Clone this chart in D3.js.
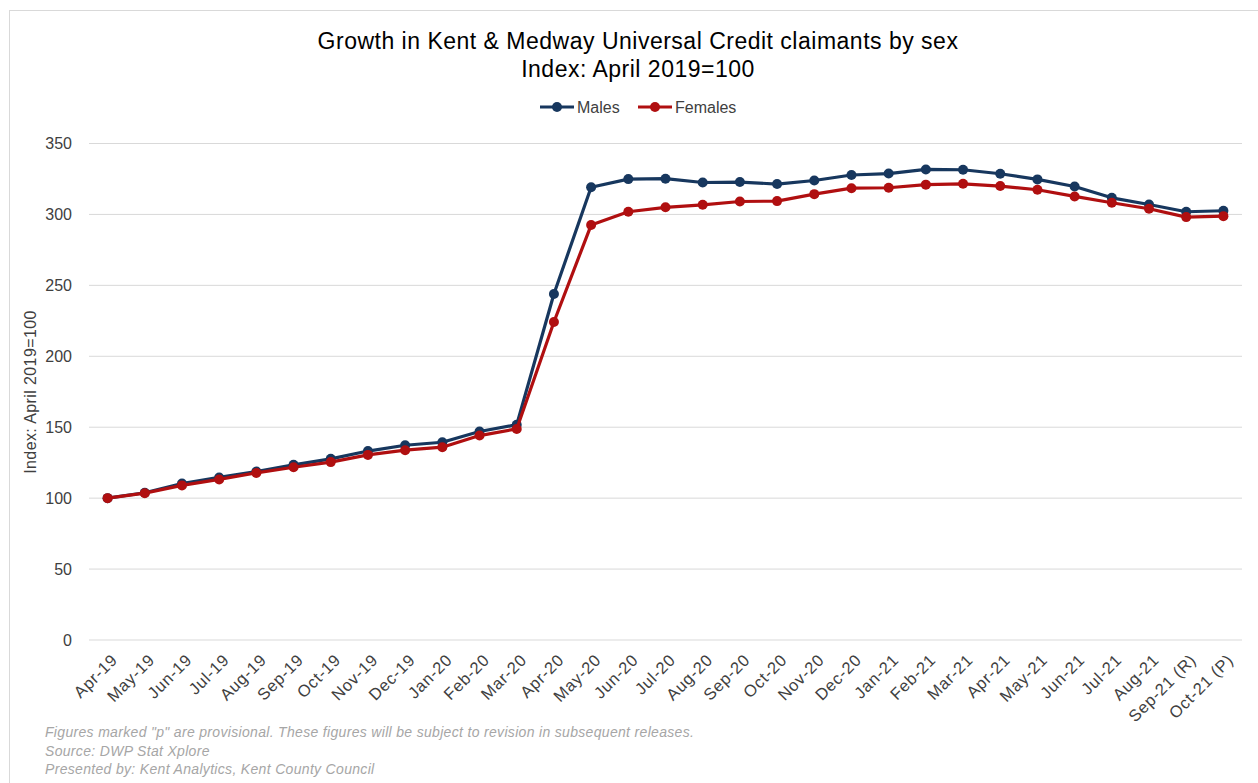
<!DOCTYPE html>
<html><head><meta charset="utf-8">
<script src="https://cdn.jsdelivr.net/npm/d3@7"></script>
<style>body{margin:0;background:#fff}svg{display:block;font-family:"Liberation Sans",Arial,sans-serif}</style>
</head><body><svg id="c" width="1258" height="783"></svg>
<script>
const months = ["Apr-19","May-19","Jun-19","Jul-19","Aug-19","Sep-19","Oct-19","Nov-19","Dec-19","Jan-20","Feb-20","Mar-20","Apr-20","May-20","Jun-20","Jul-20","Aug-20","Sep-20","Oct-20","Nov-20","Dec-20","Jan-21","Feb-21","Mar-21","Apr-21","May-21","Jun-21","Jul-21","Aug-21","Sep-21 (R)","Oct-21 (P)"];
const males = [100,103.8,110.3,114.6,118.8,123.5,127.7,133.2,137.3,139.4,147,151.8,243.9,319.2,324.9,325.2,322.5,322.8,321.4,323.9,327.8,328.8,331.7,331.5,328.7,324.7,319.7,311.7,307,301.9,302.6];
const females = [100,103.5,109,113.2,117.8,121.8,125.4,130.5,133.8,135.9,144.1,148.8,224.2,292.5,301.9,305,306.8,309.1,309.4,314.3,318.5,318.8,321,321.6,320,317.4,312.7,308.2,304,298.1,298.8];
const yTicks = [0,50,100,150,200,250,300,350];
const seriesNames = ["Males","Females"];
const colors = ["#17375e","#b00f10"];
const footnotes = ['Figures marked "p" are provisional. These figures will be subject to revision in subsequent releases.','Source: DWP Stat Xplore','Presented by: Kent Analytics, Kent County Council'];

const svg = d3.select("#c");
svg.append("rect").attr("x",9.5).attr("y",10.5).attr("width",1300).attr("height",800).attr("fill","none").attr("stroke","#d9d9d9");

const x = d3.scaleBand().domain(months).range([89,1242]);
const y = d3.scaleLinear().domain([0,350]).range([640,143.5]);

// grid
svg.append("g").selectAll("line").data(yTicks).join("line")
  .attr("x1",89).attr("x2",1242).attr("y1",d=>y(d)).attr("y2",d=>y(d))
  .attr("stroke","#d9d9d9").attr("stroke-width",1);

// y axis labels
svg.append("g").selectAll("text").data(yTicks).join("text")
  .attr("x",72).attr("y",d=>y(d)).attr("dy","0.35em").attr("text-anchor","end")
  .attr("font-size",16).attr("fill","#404040").text(d=>d);

// x labels
svg.append("g").selectAll("text").data(months).join("text")
  .attr("text-anchor","end").attr("font-size",16.5).attr("letter-spacing",0.7).attr("fill","#404040")
  .attr("transform",d=>`translate(${x(d)+x.bandwidth()/2+11},${661}) rotate(-45)`)
  .text(d=>d);

// y title
svg.append("text").attr("transform","translate(36,392) rotate(-90)").attr("text-anchor","middle")
  .attr("font-size",16).attr("letter-spacing",0.4).attr("fill","#404040").text("Index: April 2019=100");

// title
svg.append("text").attr("x",638).attr("y",49).attr("text-anchor","middle").attr("font-size",23).attr("letter-spacing",0.5).attr("fill","#000").text("Growth in Kent & Medway Universal Credit claimants by sex");
svg.append("text").attr("x",638).attr("y",77).attr("text-anchor","middle").attr("font-size",23).attr("letter-spacing",0.5).attr("fill","#000").text("Index: April 2019=100");

const cx = d=>x(d)+x.bandwidth()/2;
[males,females].forEach((vals,i)=>{
  const data = months.map((m,j)=>({m,v:vals[j]}));
  svg.append("path").datum(data).attr("fill","none").attr("stroke",colors[i]).attr("stroke-width",3.2)
    .attr("stroke-linejoin","round")
    .attr("d",d3.line().x(d=>cx(d.m)).y(d=>y(d.v)));
  svg.append("g").selectAll("circle").data(data).join("circle")
    .attr("cx",d=>cx(d.m)).attr("cy",d=>y(d.v)).attr("r",5).attr("fill",colors[i]);
});

// legend
const legX = [540,638];
seriesNames.forEach((n,i)=>{
  const g = svg.append("g").attr("transform",`translate(${legX[i]},107)`);
  g.append("line").attr("x1",0).attr("x2",34).attr("stroke",colors[i]).attr("stroke-width",3.2);
  g.append("circle").attr("cx",17).attr("r",5).attr("fill",colors[i]);
  g.append("text").attr("x",37).attr("dy","0.35em").attr("font-size",16).attr("fill","#404040").text(n);
});

// footnotes
svg.append("g").selectAll("text").data(footnotes).join("text")
  .attr("x",45).attr("y",(d,i)=>737+i*18.5).attr("font-size",14).attr("letter-spacing",0.32).attr("font-style","italic")
  .attr("fill","#a6a6a6").text(d=>d);
</script></body></html>
